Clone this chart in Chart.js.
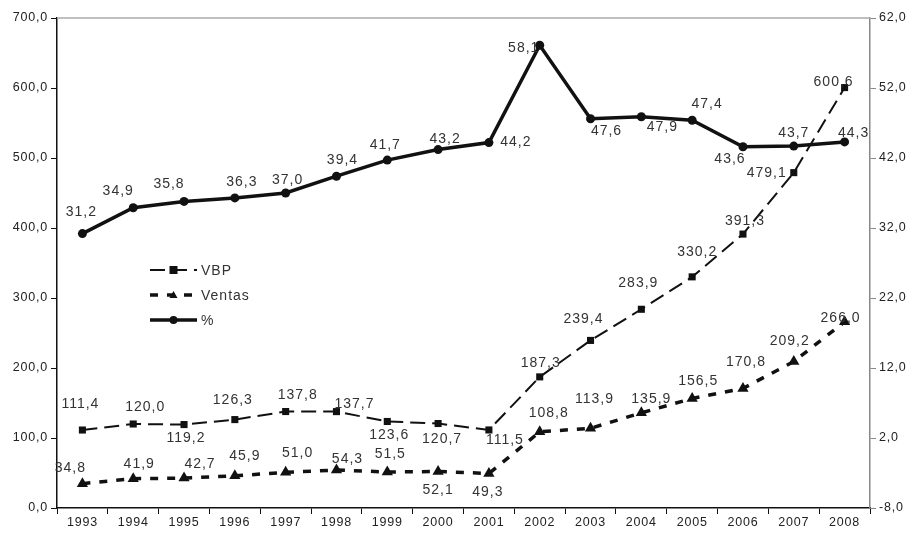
<!DOCTYPE html>
<html>
<head>
<meta charset="utf-8">
<script src="https://cdn.jsdelivr.net/npm/chart.js@4.4.1/dist/chart.umd.min.js"></script>
<style>
  html, body { margin: 0; padding: 0; background: #fff; }
  #wrap { width: 922px; height: 533px; }
</style>
</head>
<body>
<div id="wrap"><canvas id="chart" width="922" height="533"></canvas></div>
<script>
const years = ["1993", "1994", "1995", "1996", "1997", "1998", "1999", "2000",
  "2001", "2002", "2003", "2004", "2005", "2006", "2007", "2008"];
const vbp = [111.4, 120.0, 119.2, 126.3, 137.8, 137.7, 123.6, 120.7,
  111.5, 187.3, 239.4, 283.9, 330.2, 391.3, 479.1, 600.6];
const ventas = [34.8, 41.9, 42.7, 45.9, 51.0, 54.3, 51.5, 52.1,
  49.3, 108.8, 113.9, 135.9, 156.5, 170.8, 209.2, 266.0];
const pct = [31.2, 34.9, 35.8, 36.3, 37.0, 39.4, 41.7, 43.2,
  44.2, 58.1, 47.6, 47.9, 47.4, 43.6, 43.7, 44.3];

// label offsets (dx, dy) from each point, in pixels
const vbpLabelPos = [[-2, -26], [12, -17], [2, 14], [-2, -19], [12, -16], [18, -7], [2, 14], [4, 16],
  [16, 10], [1, -14], [-7, -21], [-3, -26], [5, -25], [2, -13], [-27, 1], [-11, -5]];
const ventasLabelPos = [[-12, -15], [6, -15], [16, -14], [10, -20], [12, -19], [11, -11], [3, -18], [0, 19],
  [-1, 19], [9, -19], [4, -29], [10, -14], [6, -17], [3, -26], [-4, -20], [-4, -4]];
const pctLabelPos = [[-1, -21], [-15, -17], [-15, -17], [7, -16], [2, -13], [6, -16], [-2, -15], [7, -10],
  [27, 0], [-16, 3], [16, 12], [21, 10], [15, -16], [-13, 12], [0, -13], [9, -9]];

const fmt = (v) => v.toFixed(1).replace(".", ",");

const pointLabels = {
  id: "pointLabels",
  afterDatasetsDraw(chart) {
    const ctx = chart.ctx;
    const offsets = [vbpLabelPos, ventasLabelPos, pctLabelPos];
    ctx.save();
    ctx.font = "14px 'Liberation Sans', Arial, sans-serif";
    ctx.letterSpacing = "1px";
    ctx.fillStyle = "#333";
    ctx.textAlign = "center";
    ctx.textBaseline = "middle";
    chart.data.datasets.forEach((ds, i) => {
      const meta = chart.getDatasetMeta(i);
      meta.data.forEach((pt, j) => {
        const [dx, dy] = offsets[i][j];
        ctx.fillText(fmt(ds.data[j]), pt.x + dx, pt.y + dy);
      });
    });
    ctx.restore();
  },
};

// top border line and in-plot legend
const frame = {
  id: "frame",
  beforeDraw(chart) {
    chart.ctx.letterSpacing = "0.8px";
  },
  beforeDatasetsDraw(chart) {
    const { ctx, chartArea } = chart;
    ctx.save();
    ctx.strokeStyle = "#aaa";
    ctx.lineWidth = 1.5;
    ctx.beginPath();
    ctx.moveTo(chartArea.left, chartArea.top);
    ctx.lineTo(chartArea.right, chartArea.top);
    ctx.stroke();
    ctx.restore();
  },
  afterDraw(chart) {
    const ctx = chart.ctx;
    const x0 = 150, x1 = 197;
    const rows = [270, 295, 320];
    ctx.save();
    chart.data.datasets.forEach((ds, i) => {
      const y = rows[i];
      ctx.strokeStyle = "#111";
      ctx.fillStyle = "#111";
      ctx.lineWidth = ds.borderWidth;
      ctx.setLineDash(ds.borderDash || []);
      ctx.beginPath();
      ctx.moveTo(x0, y);
      ctx.lineTo(x1, y);
      ctx.stroke();
      ctx.setLineDash([]);
      const cx = (x0 + x1) / 2;
      if (ds.pointStyle === "rect") {
        ctx.fillRect(cx - 4, y - 4, 8, 8);
      } else if (ds.pointStyle === "triangle") {
        ctx.beginPath();
        ctx.moveTo(cx, y - 4);
        ctx.lineTo(cx + 4, y + 3);
        ctx.lineTo(cx - 4, y + 3);
        ctx.fill();
      } else {
        ctx.beginPath();
        ctx.arc(cx, y, 4, 0, Math.PI * 2);
        ctx.fill();
      }
      ctx.font = "14px 'Liberation Sans', Arial, sans-serif";
      ctx.letterSpacing = "1px";
      ctx.fillStyle = "#333";
      ctx.textBaseline = "middle";
      ctx.fillText(ds.label, x1 + 4, y + 1);
    });
    ctx.restore();
  },
};

const tickFont = { family: "'Liberation Sans', Arial, sans-serif", size: 12.5 };

new Chart(document.getElementById("chart"), {
  type: "line",
  data: {
    labels: years,
    datasets: [
      {
        label: "VBP",
        data: vbp,
        yAxisID: "y",
        borderColor: "#111",
        backgroundColor: "#111",
        borderWidth: 2,
        borderDash: [15, 7],
        pointStyle: "rect",
        pointRadius: 5,
        pointBorderWidth: 0,
        tension: 0,
      },
      {
        label: "Ventas",
        data: ventas,
        yAxisID: "y",
        borderColor: "#111",
        backgroundColor: "#111",
        borderWidth: 3.5,
        borderDash: [8, 9],
        pointStyle: "triangle",
        pointRadius: 6.5,
        pointBorderWidth: 0,
        tension: 0,
      },
      {
        label: "%",
        data: pct,
        yAxisID: "y1",
        borderColor: "#111",
        backgroundColor: "#111",
        borderWidth: 3.5,
        pointStyle: "circle",
        pointRadius: 4.5,
        pointBorderWidth: 0,
        tension: 0,
      },
    ],
  },
  options: {
    responsive: false,
    animation: false,
    layout: { padding: { top: 18, left: 0, right: 0, bottom: 0 } },
    plugins: {
      legend: { display: false },
      tooltip: { enabled: false },
    },
    scales: {
      x: {
        offset: true,
        grid: { offset: true, drawOnChartArea: false, color: "#111", tickLength: 6 },
        border: { color: "#111", width: 1.5 },
        ticks: { color: "#222", font: tickFont, padding: 1, maxRotation: 0 },
        afterFit: (scale) => { scale.height = 25; },
      },
      y: {
        position: "left",
        min: 0,
        max: 700,
        grid: { drawOnChartArea: false, color: "#111", tickLength: 6 },
        border: { color: "#111", width: 1.5 },
        ticks: { stepSize: 100, color: "#222", font: tickFont, padding: 3, callback: (v) => fmt(v) },
        afterFit: (scale) => { scale.width = 57; },
      },
      y1: {
        position: "right",
        min: -8,
        max: 62,
        grid: { drawOnChartArea: false, color: "#888", tickLength: 6 },
        border: { color: "#888", width: 1.5 },
        ticks: { stepSize: 10, color: "#222", font: tickFont, padding: 3, callback: (v) => fmt(v) },
        afterFit: (scale) => { scale.width = 52; },
      },
    },
  },
  plugins: [pointLabels, frame],
});
</script>
</body>
</html>
